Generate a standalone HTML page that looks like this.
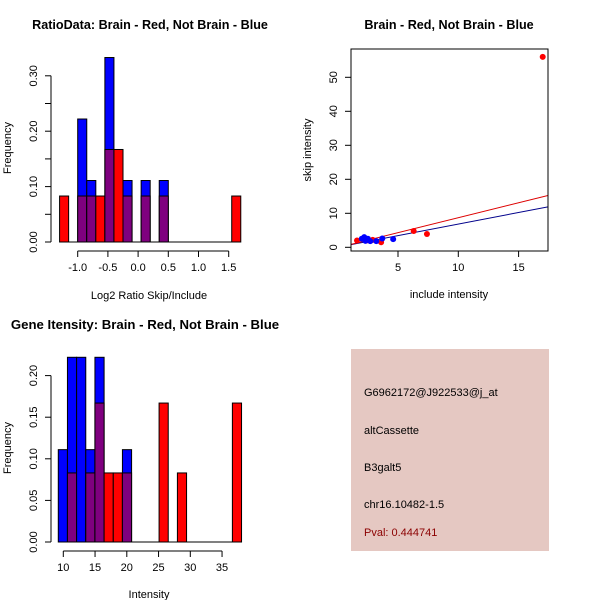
<!DOCTYPE html>
<html><head><meta charset="utf-8"><style>
html,body{margin:0;padding:0;background:#fff;}
svg{display:block;font-family:"Liberation Sans",sans-serif;}
</style></head><body>
<svg id="s" width="600" height="600" viewBox="0 0 600 600" xmlns="http://www.w3.org/2000/svg">
<rect x="0" y="0" width="600" height="600" fill="#fff"/>
<g>
<rect x="351" y="349" width="198" height="202" fill="#e5c8c2"/>
<text x="364" y="396" font-size="11" fill="#000">G6962172@J922533@j_at</text>
<text x="364" y="434" font-size="11" fill="#000">altCassette</text>
<text x="364" y="471" font-size="11" fill="#000">B3galt5</text>
<text x="364" y="508" font-size="11" fill="#000">chr16.10482-1.5</text>
<text x="364" y="536" font-size="11" fill="#8b0000">Pval: 0.444741</text>
</g>
</svg>
<script>
// ---- Ratio histogram data (bin index k, bin width 0.15 starting at -1.0)
const ratioBinStart = -1.0;
const ratioBinWidth = 0.15;
const ratioBlueBins = [0, 1, 3, 5, 7, 9];
const ratioBlueFreq = [0.222, 0.111, 0.333, 0.111, 0.111, 0.111];
const ratioRedBins = [-2, 0, 1, 2, 3, 4, 5, 7, 9, 17];
const ratioRedFreq = [0.083, 0.083, 0.083, 0.083, 0.167, 0.167, 0.083, 0.083, 0.083, 0.083];
const ratioXTicks = [-1.0, -0.5, 0.0, 0.5, 1.0, 1.5];
const ratioXLabels = ["-1.0", "-0.5", "0.0", "0.5", "1.0", "1.5"];
const ratioYTicks = [0, 0.05, 0.10, 0.15, 0.20, 0.25, 0.30];
const ratioYLabels = ["0.00", "", "0.10", "", "0.20", "", "0.30"];

// ---- Intensity histogram data
const intBinStart = 9.21;
const intBinWidth = 1.443;
const intBlueBins = [0, 1, 2, 3, 4, 7];
const intBlueFreq = [0.111, 0.222, 0.222, 0.111, 0.222, 0.111];
const intRedBins = [1, 3, 4, 5, 6, 7, 11, 13, 19];
const intRedFreq = [0.083, 0.083, 0.167, 0.083, 0.083, 0.083, 0.167, 0.083, 0.167];
const intXTicks = [10, 15, 20, 25, 30, 35];
const intYTicks = [0, 0.05, 0.10, 0.15, 0.20];
const intYLabels = ["0.00", "0.05", "0.10", "0.15", "0.20"];

// ---- Scatter data
const redX = [17.0, 1.6, 3.6, 6.3, 7.4, 2.4, 2.9];
const redY = [56.0, 2.0, 1.5, 4.8, 3.9, 2.0, 2.2];
const blueX = [2.2, 2.0, 2.5, 2.7, 3.2, 3.7, 4.6, 2.3];
const blueY = [3.0, 2.5, 2.5, 1.8, 1.8, 2.6, 2.4, 1.9];
const redFit = [-0.1, 0.88];   // intercept, slope
const blueFit = [0.03, 0.68];
const scXTicks = [5, 10, 15];
const scYTicks = [0, 10, 20, 30, 40, 50];

const NS = "http://www.w3.org/2000/svg";
const svg = document.getElementById("s");
function el(tag, attrs, parent) {
  const e = document.createElementNS(NS, tag);
  for (const k in attrs) e.setAttribute(k, attrs[k]);
  (parent || svg).appendChild(e);
  return e;
}
function txt(x, y, s, size, opts, parent) {
  const t = el("text", Object.assign({x: x, y: y, "font-size": size, fill: "#000"}, opts || {}), parent);
  t.textContent = s;
  return t;
}

function hist(cfg) {
  const g = el("g", {});
  
  
  const sx = v => cfg.x0px + (v - cfg.x0v) * cfg.pxPerX;
  const sy = v => cfg.y0px - v * cfg.pxPerY;
  const blueMap = {}, redMap = {};
  cfg.blueBins.forEach((k, i) => blueMap[k] = cfg.blueFreq[i]);
  cfg.redBins.forEach((k, i) => redMap[k] = cfg.redFreq[i]);
  const all = Array.from(new Set(cfg.blueBins.concat(cfg.redBins))).sort((a, b) => a - b);
  all.forEach(k => {
    const b = blueMap[k] || 0, r = redMap[k] || 0;
    const xl = sx(cfg.binStart + k * cfg.binWidth), xr = sx(cfg.binStart + (k + 1) * cfg.binWidth);
    const top = Math.max(b, r), low = Math.min(b, r);
    const col = b > r ? "#0000ff" : "#ff0000";
    const bar = el("rect", {x: xl, y: sy(top), width: xr - xl, height: sy(0) - sy(top), fill: col, stroke: "#000", "stroke-width": 1}, g);
    
    
    if (low > 0) {
      const ov = el("rect", {x: xl, y: sy(low), width: xr - xl, height: sy(0) - sy(low), fill: "#7f007f", stroke: "#000", "stroke-width": 1}, g);
      
      
    }
  });
  const xs0 = sx(cfg.binStart + Math.min.apply(null, all) * cfg.binWidth);
  const xs1 = sx(cfg.binStart + (Math.max.apply(null, all) + 1) * cfg.binWidth);
  el("line", {x1: xs0, x2: xs1, y1: sy(0), y2: sy(0), stroke: "#000"}, g);
  const xa = el("g", {}, g);
  
  
  const ay = cfg.xAxisY;
  el("line", {x1: sx(cfg.xTicks[0]), x2: sx(cfg.xTicks[cfg.xTicks.length - 1]), y1: ay, y2: ay, stroke: "#000"}, xa);
  cfg.xTicks.forEach((v, i) => {
    el("line", {x1: sx(v), x2: sx(v), y1: ay, y2: ay + 6, stroke: "#000"}, xa);
    txt(sx(v), ay + 20, cfg.xLabels[i], 11, {"text-anchor": "middle"}, xa);
  });
  const ya = el("g", {}, g);
  
  
  el("line", {x1: 51, x2: 51, y1: sy(0), y2: sy(cfg.yTicks[cfg.yTicks.length - 1]), stroke: "#000"}, ya);
  cfg.yTicks.forEach((v, i) => {
    el("line", {x1: 45, x2: 51, y1: sy(v), y2: sy(v), stroke: "#000"}, ya);
    if (cfg.yLabels[i]) txt(0, 0, cfg.yLabels[i], 11, {"text-anchor": "middle", transform: "translate(37," + sy(v) + ") rotate(-90)"}, ya);
  });
  const yt = txt(0, 0, "Frequency", 11, {"text-anchor": "middle", transform: "translate(11," + cfg.yTitleY + ") rotate(-90)"}, g);
  
  
  const xt = txt(cfg.xTitleX, cfg.xTitleY, cfg.xTitle, 11, {"text-anchor": "middle"}, g);
  
  
  const tt = txt(cfg.titleX, cfg.titleY, cfg.title, cfg.titleSize, {"font-weight": "bold", "text-anchor": "middle"}, g);
  
  
}

hist({name: "ratio-histogram", x0v: -1.0, x0px: 77.7, pxPerX: 60.4, y0px: 242, pxPerY: 554,
  binStart: ratioBinStart, binWidth: ratioBinWidth, blueBins: ratioBlueBins, blueFreq: ratioBlueFreq,
  redBins: ratioRedBins, redFreq: ratioRedFreq, xTicks: ratioXTicks, xLabels: ratioXLabels,
  yTicks: ratioYTicks, yLabels: ratioYLabels, xAxisY: 251, yTitleY: 148,
  xTitle: "Log2 Ratio Skip/Include", xTitleX: 149, xTitleY: 299,
  title: "RatioData: Brain - Red, Not Brain - Blue", titleX: 150, titleY: 29, titleSize: 12.6});

hist({name: "intensity-histogram", x0v: 10, x0px: 63.3, pxPerX: 6.35, y0px: 542, pxPerY: 832,
  binStart: intBinStart, binWidth: intBinWidth, blueBins: intBlueBins, blueFreq: intBlueFreq,
  redBins: intRedBins, redFreq: intRedFreq, xTicks: intXTicks, xLabels: intXTicks.map(String),
  yTicks: intYTicks, yLabels: intYLabels, xAxisY: 551, yTitleY: 448,
  xTitle: "Intensity", xTitleX: 149, xTitleY: 598,
  title: "Gene Itensity: Brain - Red, Not Brain - Blue", titleX: 145, titleY: 329, titleSize: 13.2});

// ---- scatter
(function () {
  const g = el("g", {});
  
  
  const L = 351, R = 548, T = 49, B = 251;
  const sx = v => 398 + (v - 5) * 12.06;
  const sy = v => 247.3 - v * 3.4;
  const cp = el("clipPath", {id: "scClip"}, g);
  el("rect", {x: L, y: T, width: R - L, height: B - T}, cp);
  const xa0 = (L - 398) / 12.06 + 5, xa1 = (R - 398) / 12.06 + 5;
  [[blueFit, "#00008b", "blue-fit-line"], [redFit, "#dd0000", "red-fit-line"]].forEach(f => {
    const ln = el("line", {x1: sx(xa0), x2: sx(xa1), y1: sy(f[0][0] + f[0][1] * xa0), y2: sy(f[0][0] + f[0][1] * xa1), stroke: f[1], "stroke-width": 1, "clip-path": "url(#scClip)"}, g);
    
    
  });
  redX.forEach((x, i) => {
    const c = el("circle", {cx: sx(x), cy: sy(redY[i]), r: 3, fill: "#ff0000"}, g);
    
    
  });
  blueX.forEach((x, i) => {
    const c = el("circle", {cx: sx(x), cy: sy(blueY[i]), r: 3, fill: "#0000ff"}, g);
    
    
  });
  el("rect", {x: L, y: T, width: R - L, height: B - T, fill: "none", stroke: "#000"}, g);
  scXTicks.forEach(v => {
    el("line", {x1: sx(v), x2: sx(v), y1: B, y2: B + 6, stroke: "#000"}, g);
    txt(sx(v), B + 20, String(v), 11, {"text-anchor": "middle"}, g);
  });
  scYTicks.forEach(v => {
    el("line", {x1: L - 6, x2: L, y1: sy(v), y2: sy(v), stroke: "#000"}, g);
    txt(0, 0, String(v), 11, {"text-anchor": "middle", transform: "translate(337," + sy(v) + ") rotate(-90)"}, g);
  });
  const xt = txt(449, 298, "include intensity", 11, {"text-anchor": "middle"}, g);
  
  
  const yt = txt(0, 0, "skip intensity", 11, {"text-anchor": "middle", transform: "translate(311,150) rotate(-90)"}, g);
  
  
  const tt = txt(449, 29, "Brain - Red, Not Brain - Blue", 12.6, {"font-weight": "bold", "text-anchor": "middle"}, g);
  
  
})();
</script>
</body></html>
